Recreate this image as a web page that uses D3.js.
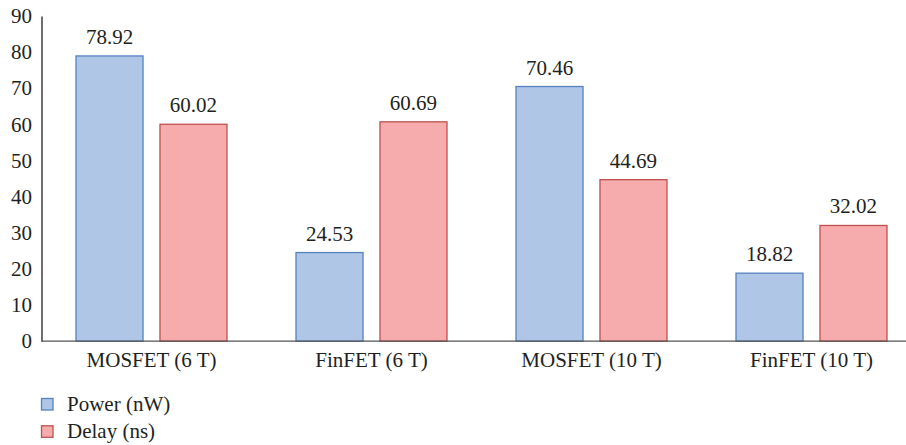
<!DOCTYPE html>
<html>
<head>
<meta charset="utf-8">
<script src="https://cdn.jsdelivr.net/npm/d3@7/dist/d3.min.js"></script>
<style>
  html, body { margin: 0; padding: 0; background: #fff; }
  svg { display: block; }
  text { font-family: "Liberation Serif", "DejaVu Serif", serif; fill: #231f20; }
</style>
</head>
<body>
<svg id="chart" width="906" height="445"></svg>
<script>
// Circuit configurations and the two measured quantities
const categories = ["MOSFET (6 T)", "FinFET (6 T)", "MOSFET (10 T)", "FinFET (10 T)"];
const seriesNames = ["Power (nW)", "Delay (ns)"];
const powerValues = [78.92, 24.53, 70.46, 18.82];
const delayValues = [60.02, 60.69, 44.69, 32.02];
const yTicks = [0, 10, 20, 30, 40, 50, 60, 70, 80, 90];

const fills = ["#b0c6e6", "#f6abad"];
const strokes = ["#5483bf", "#c0504d"];
const fontSize = 21;

const rows = categories.map((c, i) => ({
  category: c,
  values: [powerValues[i], delayValues[i]]
}));

const svg = d3.select("#chart");
const W = 906;
const plotLeft = 41.5, plotRight = 921.5, plotTop = 15.9, plotBottom = 341.2;

const x = d3.scaleBand().domain(categories).range([plotLeft, plotRight]).padding(0);
const xs = d3.scaleBand().domain(d3.range(seriesNames.length))
  .range([0, x.bandwidth()]).paddingInner(0.19).paddingOuter(0.405);
const y = d3.scaleLinear().domain([0, 90]).range([plotBottom, plotTop]);

// Bars
const groups = svg.append("g").selectAll("g").data(rows).join("g")
  .attr("transform", d => `translate(${x(d.category)},0)`);

groups.selectAll("rect").data(d => d.values.map((v, k) => ({ v, k })))
  .join("rect")
  .attr("x", d => xs(d.k) + 0.5)
  .attr("y", d => y(d.v))
  .attr("width", xs.bandwidth() - 1)
  .attr("height", d => y(0) - y(d.v))
  .attr("fill", d => fills[d.k])
  .attr("stroke", d => strokes[d.k])
  .attr("stroke-width", 1.3);

// Value labels above each bar
groups.selectAll("text.val").data(d => d.values.map((v, k) => ({ v, k })))
  .join("text")
  .attr("class", "val")
  .attr("x", d => xs(d.k) + xs.bandwidth() / 2)
  .attr("y", d => y(d.v) - 12)
  .attr("text-anchor", "middle")
  .attr("font-size", fontSize)
  .text(d => d.v.toFixed(2));

// Y axis: vertical line with labels only
const yAxis = d3.axisLeft(y).tickValues(yTicks).tickSize(0).tickPadding(9.5);
const gy = svg.append("g").attr("transform", `translate(${plotLeft},0)`).call(yAxis);
gy.select(".domain").attr("stroke", "#231f20").attr("stroke-width", 1.3);
gy.selectAll("text").attr("font-size", fontSize).attr("fill", "#231f20");

// Baseline running to the right edge
svg.append("line")
  .attr("x1", plotLeft).attr("x2", W)
  .attr("y1", y(0)).attr("y2", y(0))
  .attr("stroke", "#555").attr("stroke-width", 1.3);

// Category labels
const xAxis = d3.axisBottom(x).tickSize(0).tickPadding(11);
const gx = svg.append("g").attr("transform", `translate(0,${y(0)})`).call(xAxis);
gx.select(".domain").remove();
gx.selectAll("text").attr("font-size", fontSize).attr("fill", "#231f20");

// Legend
const legend = svg.append("g").selectAll("g").data(seriesNames).join("g")
  .attr("transform", (d, i) => `translate(41.5,${398.5 + i * 27.3})`);
legend.append("rect")
  .attr("width", 11.5).attr("height", 11.5)
  .attr("fill", (d, i) => fills[i])
  .attr("stroke", (d, i) => strokes[i])
  .attr("stroke-width", 1.3);
legend.append("text")
  .attr("x", 25.5).attr("y", 12)
  .attr("font-size", fontSize)
  .text(d => d);
</script>
</body>
</html>
